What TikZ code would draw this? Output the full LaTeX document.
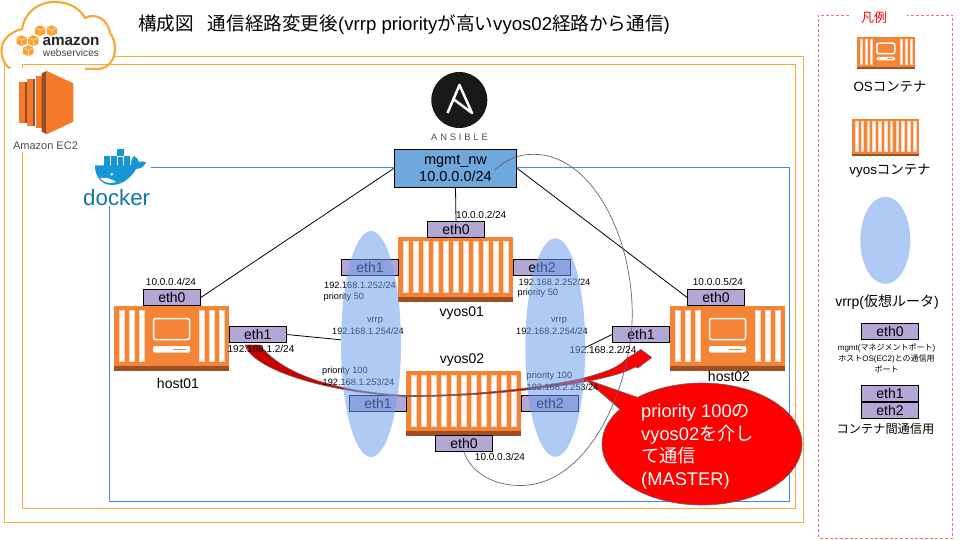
\documentclass[tikz,border=0pt]{standalone}
\usepackage{fontspec}
\setmainfont{Liberation Sans}
\newfontfamily\cjk{Noto Sans CJK JP}
\newfontfamily\spaced[LetterSpace=30]{Liberation Sans}
\usetikzlibrary{shapes.geometric, shapes.callouts}

\definecolor{awsline}{HTML}{F9A83C}
\definecolor{dockline}{HTML}{4A86E8}
\definecolor{boxbody}{HTML}{F58536}
\definecolor{boxdark}{HTML}{9D5025}
\definecolor{portfill}{HTML}{B4A7D6}
\definecolor{mgmtfill}{HTML}{6FA8DC}
\definecolor{vrrpfill}{HTML}{6D9EEB}
\definecolor{dockblue}{HTML}{1795D4}
\definecolor{ec2dark}{HTML}{9D4A1F}
\definecolor{ec2face}{HTML}{F5792A}
\definecolor{legendred}{HTML}{FF6B6B}

\begin{document}
\begin{tikzpicture}[
    x=1pt, y=-1pt,
    awsframe/.style={draw=awsline, line width=1pt},
    dockframe/.style={draw=dockline, line width=1pt},
    port/.style={draw, line width=.8pt, fill=portfill, minimum width=57pt,
                 minimum height=16.3pt, inner sep=0pt,
                 font=\fontsize{14}{16}\selectfont},
    mgmtbox/.style={draw, line width=.8pt, fill=mgmtfill, align=center,
               minimum width=122.4pt, minimum height=38pt, inner sep=0pt,
               font=\fontsize{14.5}{17}\selectfont},
    vrrpzone/.style={ellipse, fill=vrrpfill, fill opacity=.55, minimum width=60pt, inner sep=0pt},
    lab/.style={inner sep=0pt, font=\fontsize{9.2}{11}\selectfont},
    addr/.style={inner sep=0pt, font=\fontsize{10}{12}\selectfont},
    boxname/.style={inner sep=0pt, font=\fontsize{14}{16}\selectfont},
    leg/.style={inner sep=0pt, align=center, font=\fontsize{13.4}{15}\selectfont},
    link/.style={line width=.8pt},
    stripe/.style={fill=white, draw=boxbody!35!white, line width=.5pt},
    hostbox/.pic={
      \fill[boxbody] (0,0) rectangle (115,60);
      \fill[boxdark] (0,60) rectangle (115,65);
      \foreach \sx in {5.5,15.5,25.5,85.5,95.5,105.5}
        \path[stripe] (\sx,4) rectangle ++(4.5,51.5);
      \draw[white, line width=1.5pt, rounded corners=2pt] (39.5,12.5) rectangle (75.5,33.5);
      \fill[white, rounded corners=1.5pt] (39,40) rectangle (76,46.7);
      \fill[boxbody] (59,42.6) rectangle (72,44.2);
    },
    vyosbox/.pic={
      \fill[boxbody] (0,0) rectangle (115,59.5);
      \fill[boxdark] (0,59.5) rectangle (115,64.5);
      \foreach \sx in {0,...,10}
        \path[stripe] ({5.5+10*\sx},4) rectangle ++(4.5,51);
    },
  ]
  \useasboundingbox (0,0) rectangle (960,540);

  %% ---- outer frame, AWS cloud ---------------------------------------
  \draw[awsframe] (4.7,57) rectangle (803,522.7);

  \draw[draw=awsline, fill=white, line width=2.2pt, line join=round]
    (12,69) .. controls (5,67) and (1.5,58) .. (1.5,50)
    .. controls (1.5,40) and (10,32) .. (22,29)
    .. controls (25,12) and (38,2) .. (55,2)
    .. controls (70,2) and (80,9) .. (85,18)
    .. controls (96,12) and (108,20) .. (110,33)
    .. controls (114,38) and (115,44) .. (115,49)
    .. controls (115,60) and (108,69) .. (97,69) -- cycle;
  \foreach \cx/\cy in {40/30.7,51.7/30.7,21.7/40.7,33.3/40.7,28.3/50.7} {
    \fill[awsline!85!orange] (\cx-5.2,\cy-3) -- (\cx,\cy-5.5) -- (\cx+5.2,\cy-3)
      -- (\cx+5.2,\cy+3) -- (\cx,\cy+5.5) -- (\cx-5.2,\cy+3) -- cycle;
    \draw[white, line width=.4pt] (\cx-5.2,\cy-3) -- (\cx,\cy-.5) -- (\cx+5.2,\cy-3)
      (\cx,\cy-.5) -- (\cx,\cy+5.5);
  }
  \node[inner sep=0pt, font=\fontsize{15.3}{17}\selectfont\bfseries, text=black!85] (awsname) at (71,41) {amazon};
  \node[inner sep=0pt, font=\fontsize{10.2}{12}\selectfont, text=black!75] (awssub) at (71,52.5) {webservices};

  %% ---- EC2 frame and logo -------------------------------------------
  \draw[awsframe] (22.5,64.5) rectangle (795,508);
  \fill[white] (10,68) rectangle (85,152);
  \foreach \bx/\bw/\by/\bh in {19.3/5.7/82/41, 26.7/6.6/79/47, 36/5.7/76.5/52} {
    \fill[ec2face] (\bx,\by) rectangle ++(\bw,\bh);
    \fill[ec2dark] (\bx+\bw,\by) rectangle ++(1.8,\bh);
  }
  \fill[ec2dark] (41.7,73.3) -- (46.7,71) -- (46.7,134.3) -- (41.7,131.7) -- cycle;
  \fill[ec2face] (46.7,71) -- (73.3,83.3) -- (73.3,121.7) -- (46.7,134.3) -- cycle;
  \node[inner sep=0pt, font=\fontsize{11}{13}\selectfont, text=black!70] (ec2) at (45.5,145.5) {Amazon EC2};

  %% ---- docker frame and logo ----------------------------------------
  \draw[dockframe] (109,167.5) rectangle (789.5,501.5);
  \fill[white] (80,150) rectangle (151,206);
  \fill[dockblue] (116.7,149.3) rectangle (124,156);
  \fill[dockblue] (104,156) rectangle (130,165.7);
  \foreach \lx in {110.5,117,123.5}
    \draw[white, line width=.4pt] (\lx,156) -- (\lx,165.7);
  \draw[white, line width=.4pt] (116.7,156) -- (124,156);
  \fill[dockblue] (95,165.5) -- (130.5,165.5) .. controls (131,160) and (133,157) .. (134,156)
    .. controls (137,158) and (139,160) .. (139,162) .. controls (141,161) and (144,161) .. (146,162.5)
    .. controls (144,167) and (140,169) .. (136,169) .. controls (130,180) and (120,185) .. (112,185)
    .. controls (100,185) and (95,175) .. (95,165.5) -- cycle;
  \fill[white] (100,178) .. controls (106,177) and (112,179) .. (116,182)
    .. controls (110,184) and (104,183) .. (100,178) -- cycle;
  \fill[white!70!dockblue] (111.7,174.3) circle (1.6);
  \node[inner sep=0pt, font=\fontsize{22.3}{24}\selectfont, text=dockblue!80!black] (dockname) at (116.7,198) {docker};

  %% ---- ansible logo -------------------------------------------------
  \node[circle, fill=black!90, minimum size=56pt, inner sep=0pt] (ansible) at (459.3,100) {};
  \draw[white, line width=2.5pt, line join=round]
    (447.5,113) -- (459.5,85) -- (472,113) -- (453.3,99);
  \node[inner sep=0pt, font=\spaced\fontsize{9.4}{11}\selectfont, text=black!70] (ansname) at (459.5,137) {ANSIBLE};

  %% ---- title --------------------------------------------------------
  \node[inner sep=0pt, anchor=west, font=\fontsize{18.6}{20}\selectfont] (title) at (138,25)
    {{\cjk 構成図}\hspace{14pt}{\cjk 通信経路変更後}(vrrp priority{\cjk が高い}vyos02{\cjk 経路から通信})};

  %% ---- containers ---------------------------------------------------
  \pic (host01) at (114,306) {hostbox};
  \pic (vyos01) at (398,237.3) {vyosbox};
  \pic (vyos02) at (406,371) {vyosbox};
  \pic (host02) at (670,306) {hostbox};

  \node[boxname] (n01) at (178,383) {host01};
  \node[boxname] (n02) at (461.7,313.3) {vyos01};
  \node[boxname] (n03) at (462,360) {vyos02};
  \node[boxname] (n04) at (729,376) {host02};

  %% ---- mgmt network and ports ----------------------------------------
  \node[mgmtbox] (mgmt) at (455.5,168.3) {mgmt\_nw\\10.0.0.0/24};

  \node[port] (h1e0) at (171.9,297.5) {eth0};
  \node[port] (h1e1) at (257.8,334.5) {eth1};
  \node[port] (v1e0) at (456,229.5) {eth0};
  \node[port] (v1e1) at (370,267.5) {eth1};
  \node[port] (v1e2) at (542,267.5) {eth2};
  \node[port] (v2e1) at (378,403.3) {eth1};
  \node[port] (v2e2) at (550,403.3) {eth2};
  \node[port] (v2e0) at (464,443.5) {eth0};
  \node[port] (h2e0) at (716,297.5) {eth0};
  \node[port] (h2e1) at (641,334.5) {eth1};

  \draw[link] (mgmt.west) -- (h1e0.east);
  \draw[link] (mgmt.south) -- (v1e0.north);
  \draw[link] (mgmt.east) -- (h2e0.west);

  %% ---- route arrow, callout ------------------------------------------
  \draw[draw=black!60, line width=.6pt, left color=red!78!black, middle color=red!78!black, right color=red]
    (245,345) .. controls (252,368) and (320,392) .. (406,396.5)
    .. controls (480,397) and (550,388) .. (585,381.7)
    .. controls (605,378) and (625,373) .. (635,367)
    -- (638,368) -- (651.7,357.5) -- (641,349.5) -- (626,359)
    .. controls (618,368) and (605,372) .. (585,377.7)
    .. controls (550,386) and (480,396) .. (406,395.5)
    .. controls (345,392) and (285,378) .. (260,345) -- cycle;

  \node[ellipse callout, draw=black!60, line width=.6pt, fill=red, minimum width=200pt, minimum height=122pt,
        inner sep=0pt, callout absolute pointer={(585,379)}] (note) at (702,444) {};
  \node[anchor=west, inner sep=0pt, align=left, text=white, font=\fontsize{18.3}{22.5}\selectfont] (notetext) at (641,447)
    {priority 100{\cjk の}\\vyos02{\cjk を介し}\\{\cjk て通信}\\(MASTER)};

  %% ---- second path of the mgmt network -------------------------------
  \draw[black!60, line width=.7pt] ([xshift=39pt,yshift=-2pt]mgmt.center)
    .. controls +(10.7,-10.5) and +(-15,0) .. ++(38.7,-16)
    .. controls +(57,-.5) and +(0,-80) .. ++(99,159.5)
    .. controls +(0,70) and +(70,0) .. ++(-112,171.7)
    .. controls +(-30,0) and +(6,18) .. (v2e0.south);

  %% ---- addresses ------------------------------------------------------
  \node[addr] (a01) at (171,282) {10.0.0.4/24};
  \node[addr] (a02) at (261,348.8) {192.168.1.2/24};
  \node[addr,anchor=west] (a03) at (456,215) {10.0.0.2/24};
  \node[lab,anchor=west] (a04) at (324,285.7) {192.168.1.252/24};
  \node[lab,anchor=west] (a05) at (323.5,297) {priority 50};
  \node[lab] (a06) at (375,321) {vrrp};
  \node[lab] (a07) at (368,331.7) {192.168.1.254/24};
  \node[lab,anchor=west] (a08) at (322,371) {priority 100};
  \node[lab,anchor=west] (a09) at (322.5,382.5) {192.168.1.253/24};
  \node[lab,anchor=west] (a10) at (518.5,282) {192.168.2.252/24};
  \node[lab,anchor=west] (a11) at (517.5,293.5) {priority 50};
  \node[lab] (a12) at (559,321) {vrrp};
  \node[lab] (a13) at (552,331.7) {192.168.2.254/24};
  \node[lab,anchor=west] (a14) at (526.5,376) {priority 100};
  \node[lab,anchor=west] (a15) at (526.5,387) {192.168.2.253/24};
  \node[addr] (a16) at (603,350) {192.168.2.2/24};
  \node[addr] (a17) at (500,457) {10.0.0.3/24};
  \node[addr,anchor=west] (a18) at (692.7,282) {10.0.0.5/24};

  %% ---- vrrp ellipses (over ports and addresses) ----------------------
  \node[vrrpzone, minimum height=226pt] (vrrp1) at (371,344) {};
  \node[vrrpzone, minimum height=218.5pt] (vrrp2) at (555.3,347.5) {};

  \draw[link] (h1e1.east) -- (vrrp1.172);
  \draw[link] (h2e1.west) -- (vrrp2.east);

  %% ---- legend -----------------------------------------------------------
  \draw[legendred, line width=.8pt, densely dashed]
    (849,15) -- (818.3,15) -- (818.3,538) -- (952.7,538) -- (952.7,15) -- (906.7,15);
  \node[inner sep=0pt, text=red, font=\cjk\fontsize{13}{15}\selectfont] (legtitle) at (874,17.7) {凡例};

  \pic[scale=.5] (leghost) at (857,37) {hostbox};
  \node[leg] (l1) at (890,87) {OS{\cjk コンテナ}};
  \pic[scale=.58] (legvyos) at (852,119) {vyosbox};
  \node[leg] (l2) at (890,171) {vyos{\cjk コンテナ}};
  \node[vrrpzone, minimum width=50pt, minimum height=87.3pt] (legvrrp) at (885.3,240.3) {};
  \node[leg, font=\fontsize{14}{16}\selectfont] (l3) at (887,302.5) {vrrp({\cjk 仮想ルータ})};
  \node[port] (lege0) at (890,331.5) {eth0};
  \node[leg, font=\fontsize{8}{11}\selectfont] (l4) at (886.5,358)
    {mgmt({\cjk マネジメントポート})\\{\cjk ホスト}OS(EC2){\cjk との通信用}\\{\cjk ポート}};
  \node[port] (lege1) at (890,393.5) {eth1};
  \node[port] (lege2) at (890,410.5) {eth2};
  \node[leg, font=\fontsize{12.2}{15}\selectfont] (l5) at (885.5,429) {\cjk コンテナ間通信用};

\end{tikzpicture}
\end{document}
